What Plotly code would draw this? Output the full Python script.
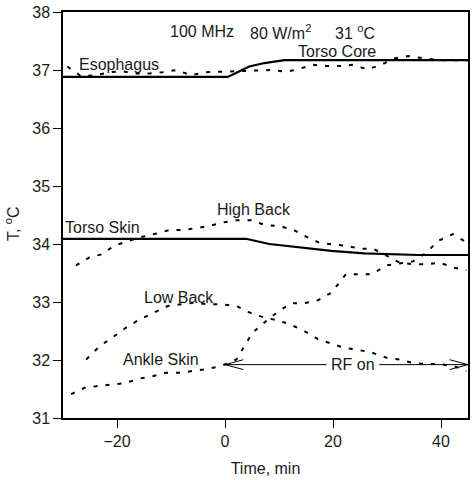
import plotly.graph_objects as go

# ---- data (time in min, temperature in °C) ----
core_t = [-30, 0.5, 2.7, 4.5, 7.3, 11, 45]
core_T = [36.88, 36.88, 36.98, 37.06, 37.12, 37.17, 37.17]

esoph_t = [-29.2, -26.6, -23.9, -21.4, -19.2, -16.4, -14, -11.6, -9, -6.3, -3.8, -1.4, 1.1, 6.4,
           8.6, 11.3, 13.4, 16.2, 18.7, 21.5, 23.7, 26.4, 28.9, 31.4, 33.9, 39.4, 41.6, 45]
esoph_T = [37.06, 36.89, 36.91, 36.96, 36.98, 36.94, 36.94, 36.96, 37.0, 36.91, 36.96, 36.97, 36.97, 37.0,
           37.0, 36.97, 37.01, 37.09, 37.07, 37.07, 37.09, 37.01, 37.09, 37.2, 37.24, 37.17, 37.17, 37.17]

skin_t = [-30, 3.9, 8.2, 13.5, 19.7, 25.8, 35.7, 45]
skin_T = [34.09, 34.09, 34.0, 33.94, 33.88, 33.84, 33.81, 33.81]

highback_t = [-27.6, -25.1, -22.9, -20.5, -18, -15.5, -12.7, -10.3, -7.8, -5.3, -2.9, -0.4, 2.1, 4.9, 7.3,
              9.8, 12.6, 14.7, 17.5, 20, 22.4, 24.9, 27.4, 30.1, 32.3, 34.8, 37.3, 39.7, 42.5, 44.7]
highback_T = [33.63, 33.77, 33.82, 33.97, 34.05, 34.12, 34.18, 34.24, 34.24, 34.28, 34.31, 34.37, 34.41, 34.41, 34.33,
              34.31, 34.25, 34.14, 34.02, 33.99, 33.97, 33.92, 33.92, 33.79, 33.68, 33.65, 33.65, 33.68, 33.59, 33.55]

lowback_t = [-25.7, -23.2, -20.8, -18.3, -15.8, -13.1, -10.6, -8.1, -5.6, -3.2, -0.7, 2.1, 4.5, 7.3,
             9.5, 11.9, 14.7, 17.2, 19.7, 22.1, 24.9, 27.1, 29.9, 32.3, 34.8, 37.3, 39.7, 42.5, 44.7]
lowback_T = [32.01, 32.24, 32.39, 32.56, 32.7, 32.82, 32.93, 32.96, 32.99, 32.96, 32.96, 32.93, 32.82, 32.73,
             32.69, 32.62, 32.5, 32.36, 32.29, 32.21, 32.17, 32.13, 32.04, 32.01, 31.95, 31.93, 31.93, 31.89, 31.81]

ankle_t = [-28.5, -26, -23.6, -21.1, -18.6, -15.8, -13.4, -10.9, -8.4, -6, -3.5, -1, 0.2, 2.1, 3.6, 5.1,
           7.6, 9.9, 12.3, 14.7, 17.2, 19.7, 22.4, 24.9, 27.3, 29.8, 32.3, 34.8, 37.3, 39.4, 42.2, 44.7]
ankle_T = [31.41, 31.52, 31.55, 31.58, 31.6, 31.68, 31.72, 31.78, 31.78, 31.81, 31.84, 31.89, 31.93, 32.01, 32.24, 32.47,
           32.67, 32.84, 32.98, 32.98, 33.03, 33.16, 33.48, 33.48, 33.48, 33.63, 33.66, 33.7, 33.85, 34.05, 34.17, 34.03]

x_ticks = [-20, 0, 20, 40]
y_ticks = [31, 32, 33, 34, 35, 36, 37, 38]

rf_start, rf_end, rf_level = 0, 45, 31.92
rf_gap = (18.8, 28.6)

FONT = "Arial, Liberation Sans, sans-serif"
DOT = dict(color="black", width=2, dash="4px,8px")
SOLID = dict(color="black", width=2.2)
TXT_COLOR = "#1a1a1a"

fig = go.Figure()
for t, T, ln, nm in [
    (core_t, core_T, SOLID, "Torso Core"),
    (skin_t, skin_T, SOLID, "Torso Skin"),
    (esoph_t, esoph_T, DOT, "Esophagus"),
    (highback_t, highback_T, DOT, "High Back"),
    (lowback_t, lowback_T, DOT, "Low Back"),
    (ankle_t, ankle_T, DOT, "Ankle Skin"),
]:
    fig.add_trace(go.Scatter(x=t, y=T, mode="lines", line=ln, name=nm, showlegend=False))

txt = dict(size=16, color=TXT_COLOR, family=FONT)
labels = [
    ("Esophagus", -27.5, 37.10),
    ("Torso Core", 13.2, 37.32),
    ("Torso Skin", -29.95, 34.29),
    ("High Back", -1.9, 34.6),
    ("Low Back", -15.3, 33.08),
    ("Ankle Skin", -19.2, 32.01),
    ("100 MHz", -10.5, 37.66),
    ("80 W/m<sup>2</sup>", 4.3, 37.66),
    ("31 <sup>o</sup>C", 20.0, 37.66),
]
for s, x, y in labels:
    fig.add_annotation(x=x, y=y, text=s, showarrow=False, xanchor="left", yanchor="middle", font=txt)

# RF on double-headed arrow (line broken around the text)
thin = dict(color="black", width=1)
fig.add_shape(type="line", x0=rf_start, x1=rf_gap[0], y0=rf_level, y1=rf_level, line=thin)
fig.add_shape(type="line", x0=rf_gap[1], x1=rf_end, y0=rf_level, y1=rf_level, line=thin)
ah_dx, ah_dy = 3.4, 0.085
for tip, sgn in [(rf_start, 1), (rf_end, -1)]:
    for d in (ah_dy, -ah_dy):
        fig.add_shape(type="line", x0=tip, y0=rf_level, x1=tip + sgn * ah_dx, y1=rf_level + d, line=thin)
fig.add_annotation(x=(rf_gap[0] + rf_gap[1]) / 2, y=rf_level, text="RF on", showarrow=False,
                   xanchor="center", yanchor="middle", font=txt)

# y-axis title (placed as a rotated annotation to match the reference position)
fig.add_annotation(xref="paper", yref="paper", x=-0.126, y=0.48, text="T, <sup>o</sup>C", textangle=-90,
                   showarrow=False, xanchor="center", yanchor="middle", font=txt)

axis_common = dict(showgrid=False, zeroline=False, showline=True, linecolor="black", linewidth=1.5,
                   mirror=True, ticks="outside", ticklen=8, tickcolor="black", tickwidth=1,
                   automargin=False,
                   tickfont=dict(size=16, color=TXT_COLOR, family=FONT))
fig.update_xaxes(range=[-30, 45], tickvals=x_ticks,
                 title=dict(text="Time, min", font=dict(size=16, color=TXT_COLOR, family=FONT), standoff=14),
                 **axis_common)
fig.update_yaxes(range=[31, 38], tickvals=y_ticks, **axis_common)

fig.update_layout(width=474, height=480, margin=dict(l=63, r=6, t=12, b=62),
                  plot_bgcolor="white", paper_bgcolor="white", font=dict(family=FONT))
fig.write_html("out.html", config={"displayModeBar": False},
               post_script="document.body.style.margin='0';document.body.style.padding='0';")
